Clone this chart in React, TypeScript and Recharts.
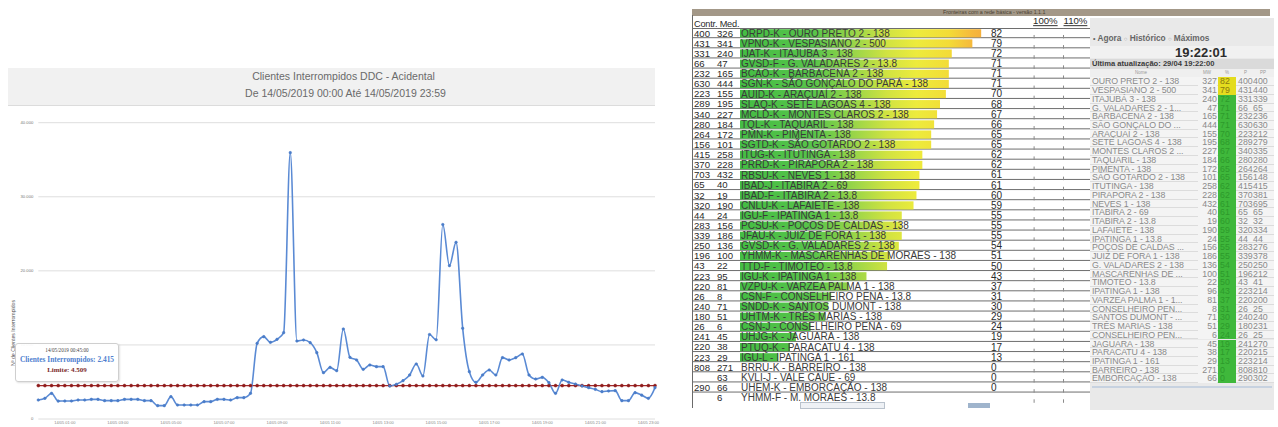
import React from 'react';
import { LineChart, Line, XAxis, YAxis, CartesianGrid, BarChart, Bar, ReferenceLine, LabelList } from 'recharts';

// ---------- Left chart data ----------
const times = [
  '00:00','00:15','00:30','00:45','01:00','01:15','01:30','01:45','02:00','02:15','02:30','02:45',
  '03:00','03:15','03:30','03:45','04:00','04:15','04:30','04:45','05:00','05:15','05:30','05:45',
  '06:00','06:15','06:30','06:45','07:00','07:15','07:30','07:45','08:00','08:15','08:30','08:45',
  '09:00','09:15','09:30','09:45','10:00','10:15','10:30','10:45','11:00','11:15','11:30','11:45',
  '12:00','12:15','12:30','12:45','13:00','13:15','13:30','13:45','14:00','14:15','14:30','14:45',
  '15:00','15:15','15:30','15:45','16:00','16:15','16:30','16:45','17:00','17:15','17:30','17:45',
  '18:00','18:15','18:30','18:45','19:00','19:15','19:30','19:45','20:00','20:15','20:30','20:45',
  '21:00','21:15','21:30','21:45','22:00','22:15','22:30','22:45','23:00','23:15',
];
const clientes = [
  2565, 2790, 3465, 2415, 2430, 2430, 2565, 2565, 2655, 2655, 2475, 2475,
  2475, 2655, 2655, 2655, 2475, 2475, 1800, 1800, 3015, 1890, 1890, 1890,
  1890, 2340, 2340, 2655, 2655, 2565, 2880, 2880, 3465, 10215, 11115, 10350,
  10755, 11655, 35955, 10530, 10665, 10305, 8955, 6255, 6975, 6525, 12150, 8325,
  7965, 6705, 7290, 7065, 7065, 4455, 4680, 5175, 5940, 7425, 5805, 11400,
  10700, 26250, 20700, 23850, 12240, 6390, 4950, 5940, 6615, 5940, 8280, 7965,
  8280, 8775, 5940, 5400, 5625, 4905, 3465, 5265, 4950, 4725, 4455, 4230,
  4005, 3690, 3780, 3825, 2475, 2475, 3555, 3220, 2790, 4230,
];
const LIMITE = 4509;
const yTicks = [0, 10000, 20000, 30000, 40000];
const xTicks = ['01:00','03:00','05:00','07:00','09:00','11:00','13:00','15:00','17:00','19:00','21:00','23:00'];

// ---------- Main table (bars) ----------
const contr = [400,431,331,66,232,630,223,289,340,280,264,156,415,370,703,65,32,320,44,283,339,250,196,43,223,220,26,240,180,26,241,220,223,808,null,290,null];
const med = [326,341,240,47,165,444,155,195,227,184,172,101,258,228,432,40,19,190,24,156,186,136,100,22,95,81,8,71,51,6,45,38,29,271,63,66,6];
const names = [
  'ORPD-K - OURO PRETO 2 - 138','VPNO-K - VESPASIANO 2 - 500','IJAT-K - ITAJUBA 3 - 138','GVSD-F - G. VALADARES 2 - 13.8',
  'BCAO-K - BARBACENA 2 - 138','SGN-K - SÃO GONÇALO DO PARÁ - 138','AUID-K - ARAÇUAÍ 2 - 138','SLAQ-K - SETE LAGOAS 4 - 138',
  'MCLD-K - MONTES CLAROS 2 - 138','TQL-K - TAQUARIL - 138','PMN-K - PIMENTA - 138','SGTD-K - SÃO GOTARDO 2 - 138',
  'ITUG-K - ITUTINGA - 138','PRRD-K - PIRAPORA 2 - 138','RBSU-K - NEVES 1 - 138','IBAD-J - ITABIRA 2 - 69',
  'IBAD-F - ITABIRA 2 - 13.8','CNLU-K - LAFAIETE - 138','IGU-F - IPATINGA 1 - 13.8','PCSU-K - POÇOS DE CALDAS - 138',
  'JFAU-K - JUIZ DE FORA 1 - 138','GVSD-K - G. VALADARES 2 - 138','YHMM-K - MASCARENHAS DE MORAES - 138','TTD-F - TIMOTEO - 13.8',
  'IGU-K - IPATINGA 1 - 138','VZPU-K - VARZEA PALMA 1 - 138','CSN-F - CONSELHEIRO PENA - 13.8','SNDD-K - SANTOS DUMONT - 138',
  'UHTM-K - TRÊS MARIAS - 138','CSN-J - CONSELHEIRO PENA - 69','UHJG-K - JAGUARA - 138','PTUQ-K - PARACATU 4 - 138',
  'IGU-L - IPATINGA 1 - 161','BRRU-K - BARREIRO - 138','KVLI-J - VALE CAUE - 69','UHEM-K - EMBORCAÇÃO - 138',
  'YHMM-F - M. MORAES - 13.8',
];
const pct = [82,79,72,71,71,71,70,68,67,66,65,65,62,62,61,61,60,59,55,55,55,54,51,50,43,37,31,30,29,24,19,17,13,0,0,0,null];

// ---------- Side table ----------
const miniNames = [
  'OURO PRETO 2 - 138','VESPASIANO 2 - 500','ITAJUBÁ 3 - 138','G. VALADARES 2 - 1...','BARBACENA 2 - 138','SÃO GONÇALO DO ...',
  'ARAÇUAÍ 2 - 138','SETE LAGOAS 4 - 138','MONTES CLAROS 2 ...','TAQUARIL - 138','PIMENTA - 138','SÃO GOTARDO 2 - 138',
  'ITUTINGA - 138','PIRAPORA 2 - 138','NEVES 1 - 138','ITABIRA 2 - 69','ITABIRA 2 - 13.8','LAFAIETE - 138',
  'IPATINGA 1 - 13.8','POÇOS DE CALDAS ...','JUIZ DE FORA 1 - 138','G. VALADARES 2 - 138','MASCARENHAS DE ...','TIMOTEO - 13.8',
  'IPATINGA 1 - 138','VARZEA PALMA 1 - 1...','CONSELHEIRO PEN...','SANTOS DUMONT - ...','TRÊS MARIAS - 138','CONSELHEIRO PEN...',
  'JAGUARA - 138','PARACATU 4 - 138','IPATINGA 1 - 161','BARREIRO - 138','EMBORCAÇÃO - 138',
];
const miniMW = [327,341,240,47,165,444,155,195,227,184,172,101,258,228,432,40,19,190,24,156,186,136,100,22,96,81,8,71,51,6,45,38,29,271,66];
const miniPct = [82,79,72,71,71,71,70,68,67,66,65,65,62,62,61,61,60,59,55,55,55,54,51,50,43,37,31,30,29,24,19,17,13,0,0];
const miniP = [400,431,331,66,232,630,223,289,340,280,264,156,415,370,703,65,32,320,44,283,339,250,196,43,223,220,26,240,180,26,241,220,223,808,290];
const miniPP = [400,440,339,65,236,630,212,279,335,280,264,148,415,381,695,65,32,334,44,276,378,250,212,41,214,200,25,240,231,25,270,215,214,810,302];

const FONT = '"Liberation Sans", Arial, sans-serif';
const fmt = (v: number) => v.toLocaleString('de-DE');

const lineData = times.map((t, i) => ({ t, v: clientes[i] }));
const barData = names.map((n, i) => ({ name: n, pct: pct[i], contr: contr[i], med: med[i] }));

const BL = 686; // left of bar chart svg on page

const RowTick = (props: any) => {
  const { x, y, payload, index } = props;
  const i = typeof index === 'number' ? index : names.indexOf(payload.value);
  return (
    <g>
      <text x={x - 46} y={y} dy="0.35em" fontSize={9.6} fill="#2a2a2a" fontFamily={FONT}>{contr[i] ?? ''}</text>
      <text x={x - 23} y={y} dy="0.35em" fontSize={9.6} fill="#2a2a2a" fontFamily={FONT}>{med[i]}</text>
      <text x={x + 1} y={y} dy="0.35em" fontSize={10} fill="#3a3a3a" fontFamily={FONT}>{payload.value}</text>
    </g>
  );
};

const BarShape = (p: any) => {
  if (!p.width || p.width <= 0) return <g />;
  return <rect x={p.x} y={p.y + 1} width={p.width} height={Math.max(0, p.height - 1.8)} fill="url(#barGrad)" fillOpacity={0.86} />;
};

const RowLine = (p: any) => (
  <line x1={p.x - 48} x2={p.x + p.width} y1={p.y + p.height - 0.5} y2={p.y + p.height - 0.5} stroke="#6e6e6e" strokeWidth={1} />
);

export default function App() {
  return (
    <div style={{ position: 'fixed', left: 0, top: 0, width: 1278, height: 427, background: '#fff', overflow: 'hidden', fontFamily: FONT }}>
      {/* ---------------- LEFT CHART ---------------- */}
      <div style={{ position: 'absolute', left: 0, top: 0 }}>
        <LineChart width={670} height={427} data={lineData} margin={{ top: 122.7, right: 15, bottom: 0, left: 8 }}>
          <CartesianGrid vertical={false} stroke="#dedede" strokeWidth={1} />
          <XAxis dataKey="t" ticks={xTicks} interval={0} height={8} axisLine={false} tickLine={false} tickSize={0} tickMargin={2}
            tick={{ fontSize: 4, fill: '#888', fontFamily: FONT }} tickFormatter={(t: string) => `14/05 ${t}`} />
          <YAxis width={30.3} domain={[0, 40000]} ticks={yTicks} axisLine={false} tickLine={false} tickSize={0} tickMargin={5}
            tick={{ fontSize: 4.2, fill: '#777', fontFamily: FONT }} tickFormatter={(v: number) => fmt(v)} />
          <Line type="linear" dataKey={() => LIMITE} name="Limite" stroke="#a32a2a" strokeWidth={1.3}
            dot={{ r: 1.5, fill: '#8e1b1b', stroke: '#8e1b1b', strokeWidth: 0.5 }} isAnimationActive={false} />
          <Line type="monotone" dataKey="v" name="Clientes Interrompidos" stroke="#5a8ad4" strokeWidth={1.6}
            dot={{ r: 1.3, fill: '#4a7cc8', stroke: '#4a7cc8', strokeWidth: 0.5 }} isAnimationActive={false} />
        </LineChart>
      </div>
      {/* title box */}
      <div style={{ position: 'absolute', left: 8, top: 68, width: 647, height: 37, background: '#f1f1f1', borderBottom: '1px solid #dcdcdc' }}>
        <div style={{ position: 'absolute', left: 0, width: '100%', top: 2, textAlign: 'center', fontSize: 10.5, color: '#6a6a6a', paddingLeft: 24, boxSizing: 'border-box' }}>Clientes Interrompidos DDC - Acidental</div>
        <div style={{ position: 'absolute', left: 0, width: '100%', top: 19, textAlign: 'center', fontSize: 10.5, color: '#6a6a6a', paddingLeft: 28, boxSizing: 'border-box' }}>De 14/05/2019 00:00 Até 14/05/2019 23:59</div>
      </div>
      {/* y axis title */}
      <div style={{ position: 'absolute', left: 13, top: 333, width: 0, height: 0 }}>
        <div style={{ position: 'absolute', transform: 'translate(-50%,-50%) rotate(-90deg)', whiteSpace: 'nowrap', fontSize: 5.2, color: '#555' }}>Nº de Clientes Interrompidos</div>
      </div>
      {/* tooltip */}
      <div style={{ position: 'absolute', left: 15, top: 343, width: 102, height: 37, background: 'rgba(255,255,255,0.93)', border: '1px solid #cfcfcf', borderRadius: 3, boxShadow: '1px 1px 2px rgba(0,0,0,0.12)', fontFamily: '"Liberation Serif", "Times New Roman", serif', textAlign: 'center' }}>
        <div style={{ position: 'absolute', top: 3, width: '100%', fontSize: 5.2, color: '#444' }}>14/05/2019 00:45:00</div>
        <div style={{ position: 'absolute', top: 11, width: '100%', fontSize: 7.4, color: '#4f7fcf', fontWeight: 'bold' }}>Clientes Interrompidos: 2.415</div>
        <div style={{ position: 'absolute', top: 22, width: '100%', fontSize: 7, color: '#7d2a2a', fontWeight: 'bold' }}>Limite: 4.509</div>
      </div>

      {/* ---------------- RIGHT PANEL ---------------- */}
      <div style={{ position: 'absolute', left: 692, top: 9, width: 578, height: 6.5, background: '#a39888' }} />
      <div style={{ position: 'absolute', left: 943, top: 9, fontSize: 5.3, lineHeight: '6.5px', color: '#4a4030', whiteSpace: 'nowrap' }}>Fronteiras com a rede básica - versão 1.1.1</div>
      <div style={{ position: 'absolute', left: 692, top: 15, width: 1.2, height: 393, background: '#6a6a6a' }} />
      <div style={{ position: 'absolute', left: 694, top: 19, fontSize: 9.2, color: '#2a2a2a', whiteSpace: 'nowrap', letterSpacing: -0.2 }}>Contr. Med.</div>
      <div style={{ position: 'absolute', left: 692, top: 28.2, width: 398, height: 1, background: '#6e6e6e' }} />

      <div style={{ position: 'absolute', left: BL, top: 0 }}>
        <BarChart width={410} height={427} data={barData} layout="vertical" barCategoryGap={0}
          margin={{ top: 28.2, right: 6, bottom: 24.2, left: 6 }}>
          <defs>
            <linearGradient id="barGrad" gradientUnits="userSpaceOnUse" x1={54} y1={0} x2={348} y2={0}>
              <stop offset="0" stopColor="#25b225" />
              <stop offset="0.25" stopColor="#3cba2c" />
              <stop offset="0.4" stopColor="#8fd02a" />
              <stop offset="0.5" stopColor="#c9de22" />
              <stop offset="0.6" stopColor="#eae81c" />
              <stop offset="0.71" stopColor="#f1d616" />
              <stop offset="0.79" stopColor="#f4ad1c" />
              <stop offset="0.85" stopColor="#f2991e" />
            </linearGradient>
          </defs>
          <XAxis type="number" domain={[0, 119]} hide />
          <YAxis type="category" dataKey="name" width={48} interval={0} axisLine={false} tickLine={false} tickSize={0} tickMargin={0} tick={<RowTick />} />
          <Bar dataKey="pct" shape={<BarShape />} background={RowLine as any} isAnimationActive={false}>
            <LabelList dataKey="pct" content={(p: any) => {
              if (p.value === null || p.value === undefined) return null;
              const bx = p.viewBox?.x ?? p.x;
              const by = p.viewBox?.y ?? p.y;
              const bh = p.viewBox?.height ?? p.height;
              return <text x={bx + 251} y={by + bh / 2} dy="0.35em" fontSize={10} fill="#2a2a2a" fontFamily={FONT}>{p.value}</text>;
            }} />
          </Bar>
          <ReferenceLine x={100} stroke="#8a8a8a" strokeDasharray="3.5 6.62" strokeWidth={1}
            label={(p: any) => <text x={p.viewBox.x - 1} y={p.viewBox.y - 4} fontSize={9.6} fill="#2a2a2a" fontFamily={FONT} textDecoration="underline">100%</text>} />
          <ReferenceLine x={110} stroke="#8a8a8a" strokeDasharray="3.5 6.62" strokeWidth={1}
            label={(p: any) => <text x={p.viewBox.x} y={p.viewBox.y - 4} fontSize={9.6} fill="#2a2a2a" fontFamily={FONT} textDecoration="underline">110%</text>} />
        </BarChart>
      </div>

      {/* side panel */}
      <div style={{ position: 'absolute', left: 1090, top: 18, width: 184, height: 392, background: '#e9e9e9' }} />
      <div style={{ position: 'absolute', left: 1093, top: 33, fontSize: 8.3, fontWeight: 'bold', color: '#666', whiteSpace: 'nowrap' }}>
        <span style={{ fontSize: 7 }}>•</span> Agora <span style={{ fontSize: 6, color: '#999' }}>○</span> Histórico <span style={{ fontSize: 6, color: '#999' }}>○</span> Máximos
      </div>
      <div style={{ position: 'absolute', left: 1090, top: 46, width: 184, height: 12, background: '#f1f1f1' }} />
      <div style={{ position: 'absolute', left: 1175, top: 44.5, fontSize: 13, fontWeight: 'bold', color: '#2c2c2c', lineHeight: '15px' }}>19:22:01</div>
      <div style={{ position: 'absolute', left: 1090, top: 59, width: 184, height: 9.5, background: '#dadada' }} />
      <div style={{ position: 'absolute', left: 1092, top: 59, fontSize: 7.6, lineHeight: '9.5px', fontWeight: 'bold', color: '#3a3a3a', whiteSpace: 'nowrap' }}>Última atualização: 29/04 19:22:00</div>
      <div style={{ position: 'absolute', left: 1090, top: 68.5, width: 184, height: 8.8, background: '#efefef', fontSize: 4.5, lineHeight: '8.8px', color: '#999' }}>
        <span style={{ position: 'absolute', left: 45 }}>Nome</span>
        <span style={{ position: 'absolute', left: 113 }}>MW</span>
        <span style={{ position: 'absolute', left: 135 }}>%</span>
        <span style={{ position: 'absolute', left: 154 }}>P</span>
        <span style={{ position: 'absolute', left: 170 }}>PP</span>
      </div>
      {miniNames.map((n, i) => {
        const top = 77.3 + i * 8.74;
        const hi = miniPct[i] >= 75;
        return (
          <div key={n + i} style={{ position: 'absolute', left: 1090, top, width: 184, height: 8.74, background: '#f4f4f4', borderBottom: '1px solid #dcdcdc', boxSizing: 'border-box', fontSize: 8.8, lineHeight: '8.74px', color: '#8a8a8a', whiteSpace: 'nowrap' }}>
            <span style={{ position: 'absolute', left: 2, letterSpacing: -0.1 }}>{n}</span>
            <span style={{ position: 'absolute', left: 108, width: 19, textAlign: 'right', background: '#f4f4f4' }}>{miniMW[i]}</span>
            <span style={{ position: 'absolute', left: 128, width: 18, top: 0, height: 8.74, background: hi ? '#e4dc1e' : '#3fb83b', color: hi ? '#8a7a10' : '#2d9a2b', paddingLeft: 2, boxSizing: 'border-box' }}>{miniPct[i]}</span>
            <span style={{ position: 'absolute', left: 148 }}>{miniP[i]}</span>
            <span style={{ position: 'absolute', left: 163 }}>{miniPP[i]}</span>
          </div>
        );
      })}
      <div style={{ position: 'absolute', left: 1092, top: 385.5, width: 180, height: 2.5, background: '#c7d2e0' }} />
      <div style={{ position: 'absolute', left: 800, top: 402, width: 83, height: 5, background: '#eef1f5', border: '1px solid #b9c2cc' }} />
      <div style={{ position: 'absolute', left: 968, top: 403, width: 22, height: 5, background: '#9fb4cc' }} />
    </div>
  );
}
